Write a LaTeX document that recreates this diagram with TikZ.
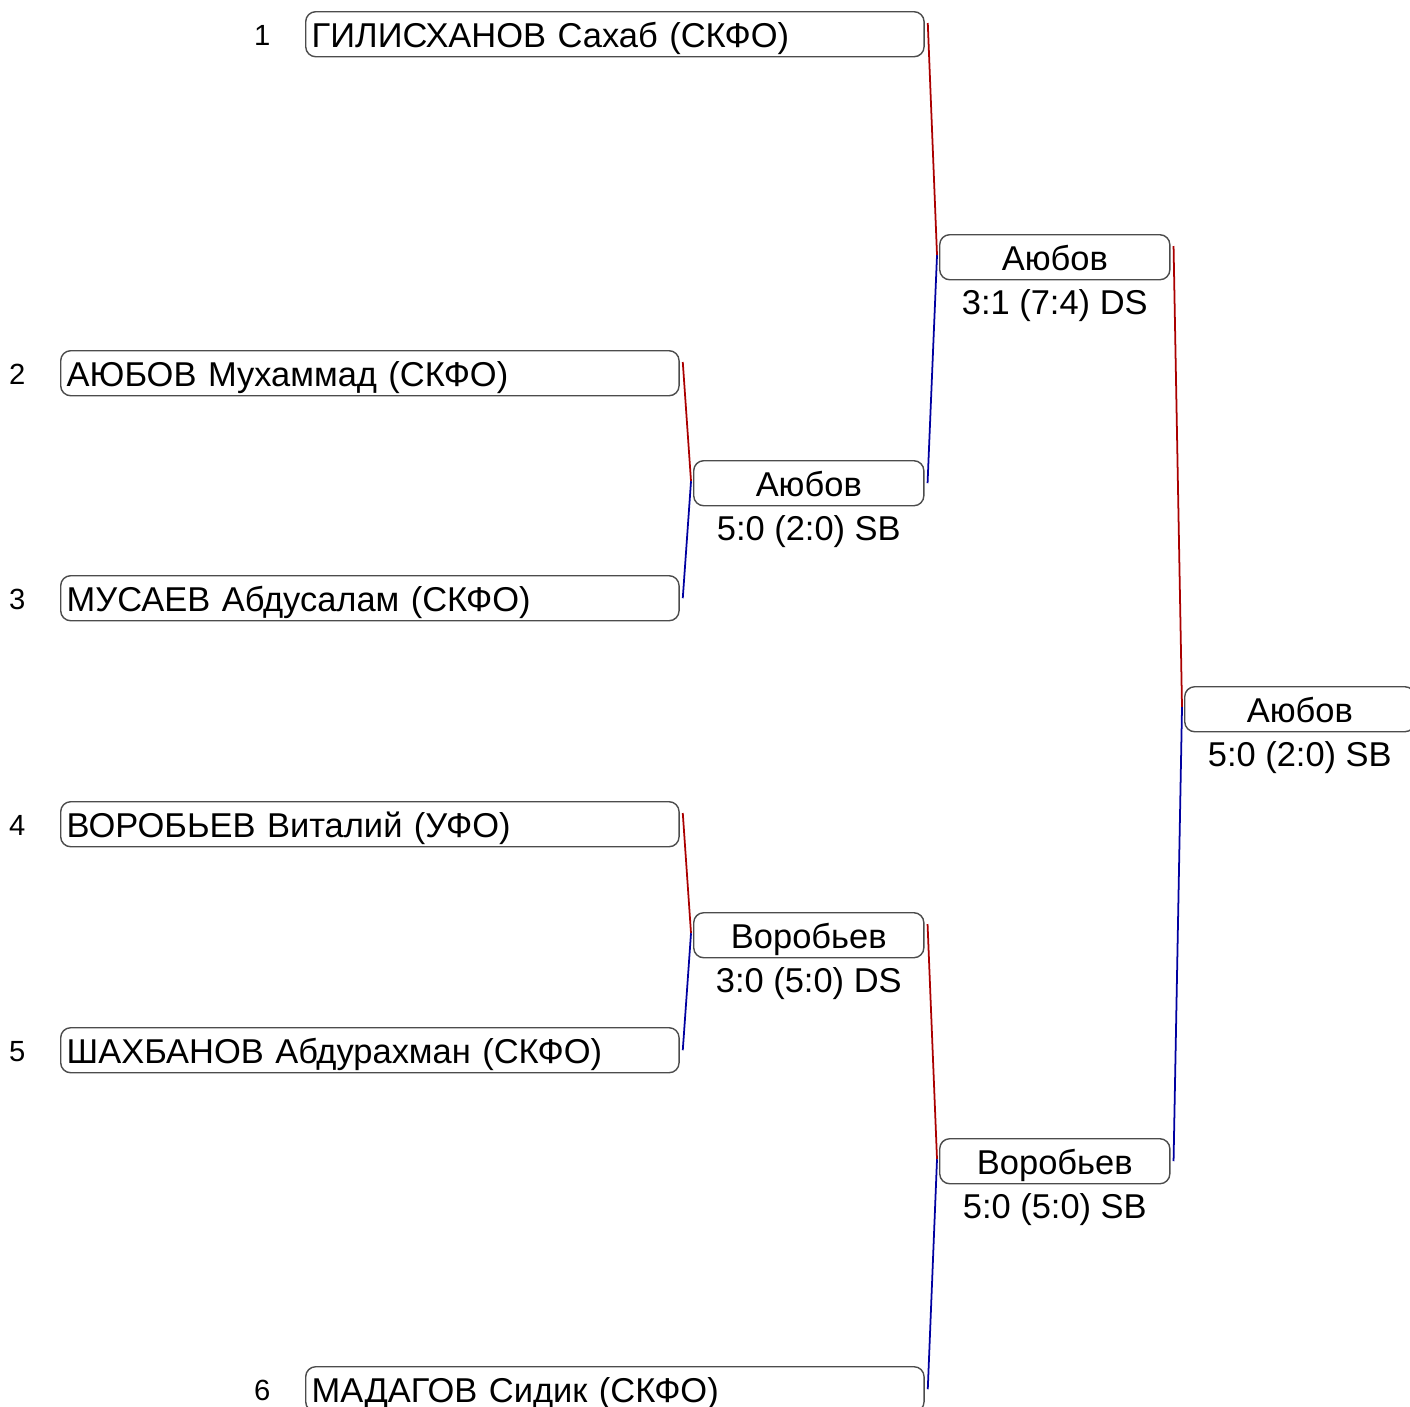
\documentclass[tikz,border=0pt]{standalone}
\usepackage{fontspec}
\setmainfont{Liberation Sans}
\usetikzlibrary{calc}
\definecolor{red}{RGB}{170,0,0}
\definecolor{blue}{RGB}{0,0,160}

\begin{document}
\begin{tikzpicture}[x=0.01cm, y=-0.01cm,
  font=\fontsize{9.8}{12}\selectfont,
  entry/.style={draw=black!70, line width=0.4pt, rounded corners=0.1cm,
    anchor=north west, minimum height=0.45cm, inner ysep=0pt,
    inner xsep=0.06cm, text width=6.06cm, align=left,
    text height=0.8em, text depth=0.05em},
  winner/.style={draw=black!70, line width=0.4pt, rounded corners=0.1cm,
    anchor=north west, minimum height=0.45cm, minimum width=2.3cm,
    inner ysep=0pt, text height=0.8em, text depth=0.05em},
  seed/.style={anchor=east, inner sep=0pt, font=\fontsize{8.3}{10}\selectfont},
  score/.style={anchor=base}]

\useasboundingbox (0,0) rectangle (1410,1406);

%---------------------------------------
% First round entries
%---------------------------------------
\node[entry] (p1) at (305,11)   {ГИЛИСХАНОВ Сахаб (СКФО)};
\node[entry] (p2) at (60,350)   {АЮБОВ Мухаммад (СКФО)};
\node[entry] (p3) at (60,575)   {МУСАЕВ Абдусалам (СКФО)};
\node[entry] (p4) at (60,801)   {ВОРОБЬЕВ Виталий (УФО)};
\node[entry] (p5) at (60,1027)  {ШАХБАНОВ Абдурахман (СКФО)};
\node[entry] (p6) at (305,1366) {МАДАГОВ Сидик (СКФО)};

% Seed numbers
\foreach \i in {1,...,6}
  \node[seed] (n\i) at ($(p\i.west)+(-34,1)$) {\i};

%---------------------------------------
% Winners
%---------------------------------------
\node[winner] (q1) at (693,460)  {Аюбов};
\node[winner] (q2) at (693,912)  {Воробьев};
\node[winner] (s1) at (939,234)  {Аюбов};
\node[winner] (s2) at (939,1138) {Воробьев};
\node[winner] (f)  at (1184,686) {Аюбов};

% Scores
\node[score] (q1s) at ($(q1.south)+(0,34)$) {5:0 (2:0) SB};
\node[score] (q2s) at ($(q2.south)+(0,34)$) {3:0 (5:0) DS};
\node[score] (s1s) at ($(s1.south)+(0,34)$) {3:1 (7:4) DS};
\node[score] (s2s) at ($(s2.south)+(0,34)$) {5:0 (5:0) SB};
\node[score] (fs)  at ($(f.south)+(0,34)$)  {5:0 (2:0) SB};

%---------------------------------------
% Connectors: upper/lower -> winner
%---------------------------------------
\foreach \a/\b/\w in {p2/p3/q1, p4/p5/q2, p1/q1/s1, q2/p6/s2, s1/s2/f} {
  \draw[red, line width=0.5pt]
    ($(\a.north east)+(3,12)$) -- ($(\w.west)+(-2,-2)$);
  \draw[blue, line width=0.5pt]
    ($(\w.west)+(-2,-2)$) -- ($(\b.east)+(3,0)$);
}

\end{tikzpicture}
\end{document}
